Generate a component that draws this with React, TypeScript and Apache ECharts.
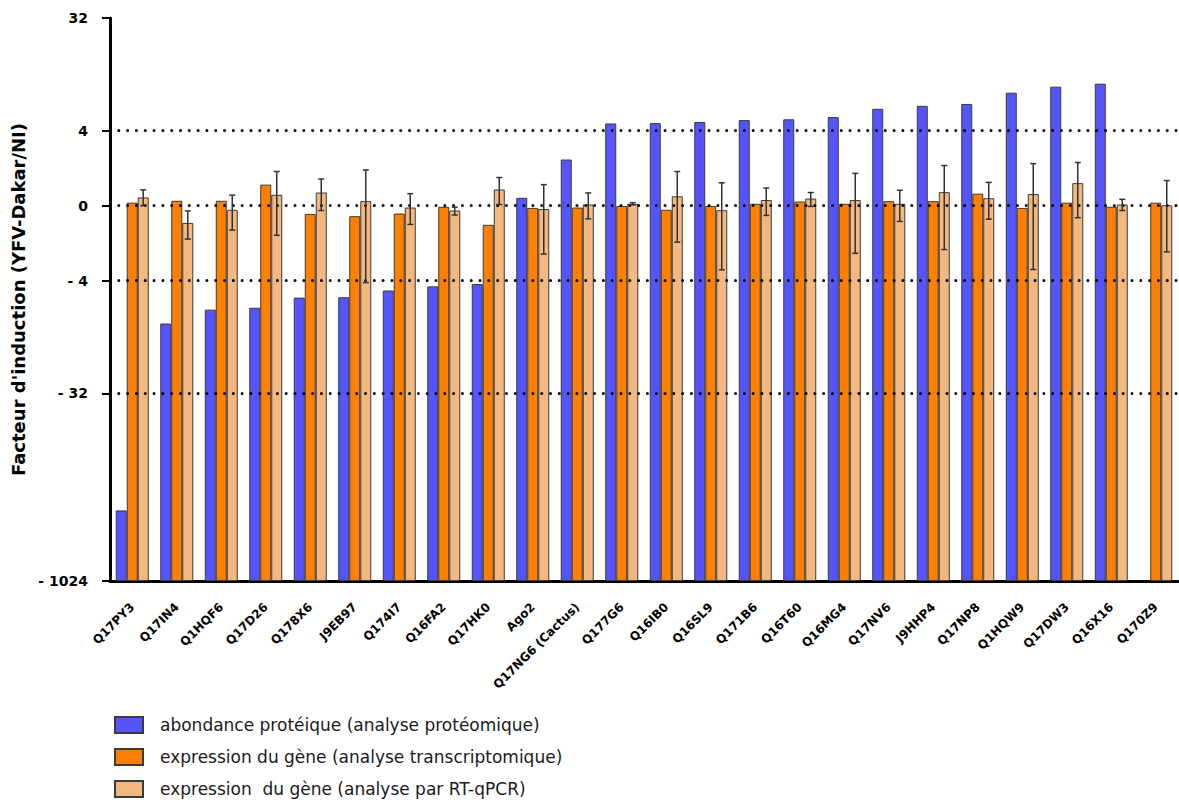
import React, { useEffect, useRef } from "react";
import * as echarts from "echarts";

// Categories (protein IDs)
const categories = [
  "Q17PY3", "Q17IN4", "Q1HQF6", "Q17D26", "Q178X6", "J9EB97", "Q174I7", "Q16FA2",
  "Q17HK0", "Ago2", "Q17NG6 (Cactus)", "Q177G6", "Q16IB0", "Q16SL9", "Q171B6", "Q16T60",
  "Q16MG4", "Q17NV6", "J9HHP4", "Q17NP8", "Q1HQW9", "Q17DW3", "Q16X16", "Q170Z9",
];

// Values are log2 of the induction factor (axis is log2, labels show signed fold)
const proteomic = [
  -8.12, -3.14, -2.77, -2.72, -2.45, -2.44, -2.26, -2.15, -2.09, 0.21, 1.23, 2.19,
  2.2, 2.23, 2.28, 2.3, 2.36, 2.58, 2.66, 2.71, 3.01, 3.17, 3.25, null,
];
const transcriptomic = [
  0.08, 0.13, 0.13, 0.56, -0.22, -0.28, -0.21, -0.03, -0.51, -0.06, -0.05, -0.01,
  -0.11, -0.01, 0.05, 0.11, 0.05, 0.12, 0.12, 0.32, -0.06, 0.08, -0.03, 0.08,
];
const rtqpcr = [
  0.22, -0.46, -0.11, 0.29, 0.35, 0.12, -0.05, -0.13, 0.43, -0.09, 0.03, 0.05,
  0.25, -0.12, 0.15, 0.19, 0.15, 0.05, 0.36, 0.2, 0.31, 0.6, 0.03, 0.01,
];
const rtqpcrLow = [
  0.0, -0.89, -0.65, -0.79, -0.13, -2.05, -0.5, -0.25, 0.03, -1.29, -0.35, 0.02,
  -0.97, -1.71, -0.26, -0.02, -1.27, -0.42, -1.17, -0.36, -1.7, -0.32, -0.13, -1.23,
];
const rtqpcrHigh = [
  0.42, -0.14, 0.28, 0.91, 0.71, 0.95, 0.32, -0.04, 0.75, 0.56, 0.34, 0.08,
  0.91, 0.61, 0.47, 0.35, 0.86, 0.41, 1.07, 0.62, 1.12, 1.15, 0.17, 0.67,
];

// Axis ticks (log2 values) and their labels
const tickValues = [-10, -5, -2, 0, 2, 5];
const tickLabels = ["- 1024", "- 32", "- 4", "0", "4", "32"];
const gridLineValues = [-5, -2, 0, 2];

const seriesNames = [
  "abondance protéique (analyse protéomique)",
  "expression du gène (analyse transcriptomique)",
  "expression  du gène (analyse par RT-qPCR)",
];

const BASE = -10; // bars rise from the bottom of the axis
const BAR_W = 11;
const FONT = "'DejaVu Sans', 'Liberation Sans', Arial, sans-serif";

export default function App() {
  const ref = useRef<HTMLDivElement>(null);

  useEffect(() => {
    if (!ref.current) return;
    const chart = echarts.init(ref.current, null, { renderer: "svg" });
    const shift = (v: number | null) => (v === null ? "-" : v - BASE);
    const labelFor = (val: number) => {
      const idx = tickValues.findIndex((t) => Math.abs(t - BASE - val) < 1e-6);
      return idx >= 0 ? tickLabels[idx] : "";
    };
    const border = { borderColor: "#3a3a3a", borderWidth: 1 };

    chart.setOption({
      animation: false,
      backgroundColor: "#ffffff",
      grid: { left: 110, right: 1, top: 18, bottom: 224, containLabel: false },
      legend: {
        orient: "vertical",
        left: 114,
        top: 716,
        padding: 0,
        height: 90,
        itemWidth: 28,
        itemHeight: 16,
        itemGap: 14,
        icon: "rect",
        data: seriesNames,
        textStyle: { fontFamily: FONT, fontSize: 17, color: "#1a1a1a", padding: [0, 0, 0, 12] },
      },
      xAxis: {
        type: "category",
        data: categories,
        axisLine: { lineStyle: { color: "#000", width: 3 } },
        axisTick: { alignWithLabel: true, length: 7, lineStyle: { color: "#000", width: 2 } },
        axisLabel: {
          interval: 0,
          rotate: 45,
          margin: 24,
          fontFamily: FONT,
          fontWeight: "bold",
          fontSize: 12,
          color: "#000",
        },
      },
      yAxis: {
        type: "value",
        min: 0,
        max: 15,
        name: "Facteur d'induction (YFV-Dakar/NI)",
        nameLocation: "middle",
        nameGap: 78,
        nameTextStyle: { fontFamily: FONT, fontWeight: "bold", fontSize: 18, color: "#000" },
        axisLine: { show: true, lineStyle: { color: "#000", width: 3 } },
        axisTick: {
          show: true,
          length: 8,
          customValues: tickValues.map((t) => t - BASE),
          lineStyle: { color: "#000", width: 2 },
        },
        axisLabel: {
          customValues: tickValues.map((t) => t - BASE),
          formatter: (val: number) => labelFor(val),
          margin: 22,
          fontFamily: FONT,
          fontWeight: "bold",
          fontSize: 14,
          color: "#000",
        },
        splitLine: { show: false },
      },
      series: [
        {
          type: "line",
          data: [],
          silent: true,
          z: 1,
          markLine: {
            silent: true,
            symbol: "none",
            label: { show: false },
            lineStyle: { color: "#000", width: 3, type: [0.01, 8.8], cap: "round" },
            data: gridLineValues.map((v) => ({ yAxis: v - BASE })),
          },
        },
        {
          name: seriesNames[0],
          type: "bar",
          z: 2,
          barWidth: BAR_W,
          barGap: "0%",
          itemStyle: { color: "#5555FF", ...border },
          data: proteomic.map(shift),
        },
        {
          name: seriesNames[1],
          type: "bar",
          z: 2,
          barWidth: BAR_W,
          barGap: "0%",
          itemStyle: { color: "#FF8000", ...border },
          data: transcriptomic.map(shift),
        },
        {
          name: seriesNames[2],
          type: "bar",
          z: 2,
          barWidth: BAR_W,
          barGap: "0%",
          itemStyle: { color: "#F2B880", ...border },
          data: rtqpcr.map(shift),
        },
        {
          type: "custom",
          z: 5,
          silent: true,
          data: rtqpcrLow.map((lo, i) => [i, lo - BASE, rtqpcrHigh[i] - BASE]),
          renderItem: (params: any, api: any) => {
            const idx = api.value(0);
            const lo = api.coord([idx, api.value(1)]);
            const hi = api.coord([idx, api.value(2)]);
            const x = lo[0] + BAR_W;
            const cap = 3;
            const style = { stroke: "#333", lineWidth: 1.5 };
            return {
              type: "group",
              children: [
                { type: "line", shape: { x1: x, y1: lo[1], x2: x, y2: hi[1] }, style },
                { type: "line", shape: { x1: x - cap, y1: lo[1], x2: x + cap, y2: lo[1] }, style },
                { type: "line", shape: { x1: x - cap, y1: hi[1], x2: x + cap, y2: hi[1] }, style },
              ],
            };
          },
        },
      ],
    });

    return () => chart.dispose();
  }, []);

  return (
    <div
      ref={ref}
      style={{ position: "fixed", left: 0, top: 0, width: 1179, height: 805, background: "#fff" }}
    />
  );
}
